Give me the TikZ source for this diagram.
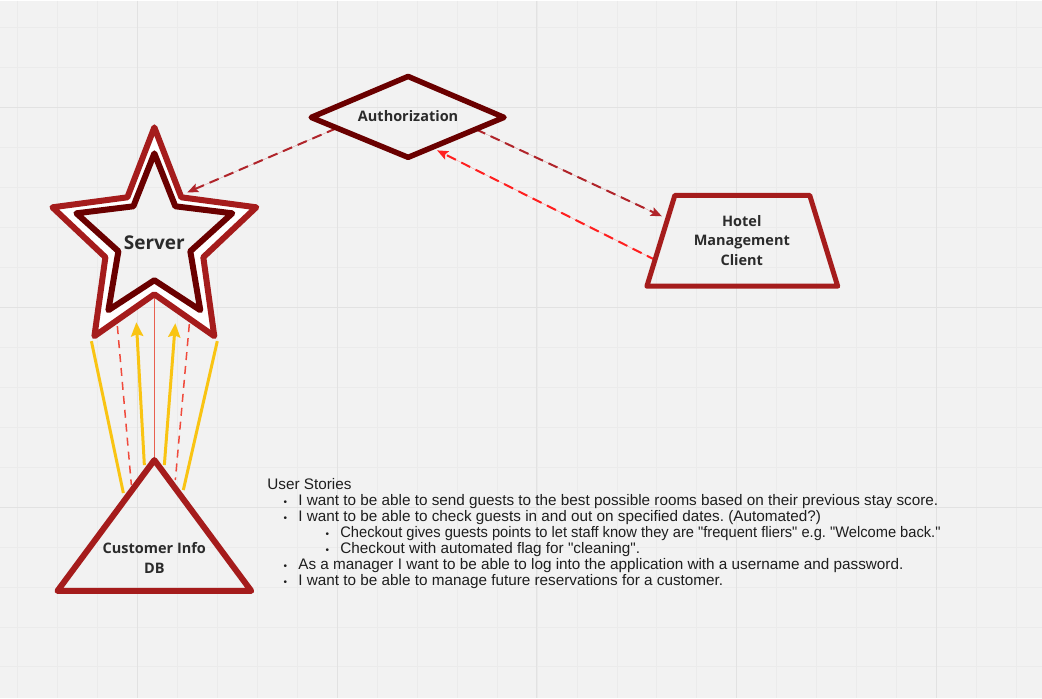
\documentclass[tikz,border=0pt]{standalone}
\usepackage{fontspec}
\usepackage{tikz}
\usepackage{tkz-euclide}
\usetikzlibrary{calc}
\usetikzlibrary{positioning}
\usetikzlibrary{arrows.meta}

\newfontfamily\labelfont{Open Sans}
\newfontfamily\storyfont{Liberation Sans}
\frenchspacing

\definecolor{boardbg}{HTML}{F2F2F2}
\definecolor{gridminor}{HTML}{EBEBEB}
\definecolor{gridmajor}{HTML}{E2E2E2}
\definecolor{shapered}{HTML}{A51C1C}
\definecolor{shapedark}{HTML}{6A0000}
\definecolor{linkred}{HTML}{B0242A}
\definecolor{linkbright}{HTML}{FF1F1F}
\definecolor{dbdash}{HTML}{F04A3C}
\definecolor{dbthin}{HTML}{E8604F}
\definecolor{dbyellow}{HTML}{F9C413}
\definecolor{labeltext}{HTML}{2B2B2B}
\definecolor{storytext}{HTML}{1E1E1E}

\newcommand{\itemone}{\hspace*{18pt}\makebox[0pt]{\fontsize{10}{10}\selectfont •}\hspace*{13pt}}
\newcommand{\itemtwo}{\hspace*{60pt}\makebox[0pt]{\fontsize{10}{10}\selectfont •}\hspace*{13pt}}

\begin{document}
\begin{tikzpicture}[%
  x=1pt, y=-1pt,
  >={Stealth[scale=1.0]},
  shapelabel/.style={font=\labelfont\bfseries\fontsize{14.5}{19.5}\selectfont,
    text=labeltext, align=center, inner sep=0pt},
  linkdash/.style={dash pattern=on 10pt off 6pt, line width=2pt,
    -{Stealth[length=11pt,width=9pt,inset=2pt]}},
  dbdashed/.style={draw=dbdash, dash pattern=on 8pt off 6pt, line width=1.5pt},
  dbplain/.style={draw=dbyellow, line width=3pt},
  dbarrow/.style={draw=dbyellow, fill=dbyellow, line width=3pt,
    -{Stealth[length=14pt,width=12pt,inset=2pt]}},
]

  % board
  \fill[boardbg] (0,0) rectangle (1042,698);
  \foreach \gx in {17,57,...,1041} \draw[gridminor, line width=0.8pt] (\gx,0) -- (\gx,698);
  \foreach \gy in {27,67,...,697} \draw[gridminor, line width=0.8pt] (0,\gy) -- (1042,\gy);
  \foreach \gx in {137,337,...,1041} \draw[gridmajor, line width=1pt] (\gx,0) -- (\gx,698);
  \foreach \gy in {107,307,507} \draw[gridmajor, line width=1pt] (0,\gy) -- (1042,\gy);
  \useasboundingbox (0,0) rectangle (1042,698);

  % server star, outer
  \tkzDefPoint(154,127){o1}
  \tkzDefPoint(181,197){o2}
  \tkzDefPoint(256,207){o3}
  \tkzDefPoint(203,257){o4}
  \tkzDefPoint(214,336){o5}
  \tkzDefPoint(154,294){o6}
  \tkzDefPoint(94,336){o7}
  \tkzDefPoint(105,257){o8}
  \tkzDefPoint(52,207){o9}
  \tkzDefPoint(127,197){o10}
  % server star, inner
  \tkzDefPoint(154,153){i1}
  \tkzDefPoint(175,206){i2}
  \tkzDefPoint(232,213){i3}
  \tkzDefPoint(190,251){i4}
  \tkzDefPoint(200,310){i5}
  \tkzDefPoint(154,280){i6}
  \tkzDefPoint(108,310){i7}
  \tkzDefPoint(118,251){i8}
  \tkzDefPoint(76,213){i9}
  \tkzDefPoint(133,206){i10}

  % authorization diamond
  \tkzDefPoint(311,117){a1}
  \tkzDefPoint(408,76){a2}
  \tkzDefPoint(504,117){a3}
  \tkzDefPoint(408,157){a4}

  % hotel client trapezium
  \tkzDefPoint(675,195){h1}
  \tkzDefPoint(810,195){h2}
  \tkzDefPoint(838,286){h3}
  \tkzDefPoint(647,286){h4}

  % customer db triangle
  \tkzDefPoint(154,460){d1}
  \tkzDefPoint(251,591){d2}
  \tkzDefPoint(57,591){d3}

  % connector ends
  \tkzDefPoint(336,128){authSW}
  \tkzDefPoint(187,192){srvNE}
  \tkzDefPoint(476,129){authSE}
  \tkzDefPoint(662,216){hotelIn}
  \tkzDefPoint(656,260){hotelOut}
  \tkzDefPoint(437,150){authIn}

  \tkzDefPoint(91,341){srvBL}
  \tkzDefPoint(123,493){dbL1}
  \tkzDefPoint(217,341){srvBR}
  \tkzDefPoint(183,490){dbR1}
  \tkzDefPoint(117,326){srvL2}
  \tkzDefPoint(131,485){dbL2}
  \tkzDefPoint(189,324){srvR2}
  \tkzDefPoint(175,480){dbR2}
  \tkzDefPoint(144,465){dbL3}
  \tkzDefPoint(136,322){srvL3}
  \tkzDefPoint(164,465){dbR3}
  \tkzDefPoint(175,323){srvR3}
  \tkzDefPoint(154,297){srvB}
  \tkzDefPoint(154,458){dbTop}

  % connectors
  \draw[linkdash, draw=linkred, fill=linkred] (authSW) -- (srvNE);
  \draw[linkdash, draw=linkred, fill=linkred] (authSE) -- (hotelIn);
  \draw[linkdash, draw=linkbright, fill=linkbright] (hotelOut) -- (authIn);

  \draw[dbplain] (srvBL) -- (dbL1);
  \draw[dbplain] (srvBR) -- (dbR1);
  \draw[dbdashed] (srvL2) -- (dbL2);
  \draw[dbdashed] (srvR2) -- (dbR2);
  \draw[dbarrow] (dbL3) -- (srvL3);
  \draw[dbarrow] (dbR3) -- (srvR3);
  \draw[dbthin, line width=1.5pt] (srvB) -- (dbTop);

  % shapes
  \fill[white, even odd rule] (o1)--(o2)--(o3)--(o4)--(o5)--(o6)--(o7)--(o8)--(o9)--(o10)--cycle
    (i1)--(i2)--(i3)--(i4)--(i5)--(i6)--(i7)--(i8)--(i9)--(i10)--cycle;
  \tkzDrawPolygon[line width=6pt, color=shapered](o1,o2,o3,o4,o5,o6,o7,o8,o9,o10)
  \tkzDrawPolygon[line width=6pt, color=shapedark](i1,i2,i3,i4,i5,i6,i7,i8,i9,i10)
  \tkzDrawPolygon[line width=5.5pt, color=shapedark](a1,a2,a3,a4)
  \tkzDrawPolygon[line width=5pt, color=shapered](h1,h2,h3,h4)
  \tkzDrawPolygon[line width=6pt, color=shapered](d1,d2,d3)

  % labels
  \node[shapelabel, font=\labelfont\bfseries\fontsize{19}{22}\selectfont] (server) at (154,242) {Server};
  \node[shapelabel] (auth) at (408,116) {Authorization};
  \node[shapelabel] (hotel) at (742,240) {Hotel\\Management\\Client};
  \node[shapelabel] (custdb) at (154,558) {Customer Info\\DB};

  % user stories
  \node[anchor=north west, align=left, inner sep=0pt, text=storytext,
    font=\storyfont\fontsize{15.3}{16}\selectfont] (stories) at (267,478) {%
    User Stories\\
    \itemone I want to be able to send guests to the best possible rooms based on their previous stay score.\\
    \itemone I want to be able to check guests in and out on specified dates. (Automated?)\\
    \itemtwo \scalebox{0.96}[1]{Checkout gives guests points to let staff know they are "frequent fliers" e.g. "Welcome back."}\\
    \itemtwo Checkout with automated flag for "cleaning".\\
    \itemone As a manager I want to be able to log into the application with a username and password.\\
    \itemone I want to be able to manage future reservations for a customer.};

\end{tikzpicture}
\end{document}
